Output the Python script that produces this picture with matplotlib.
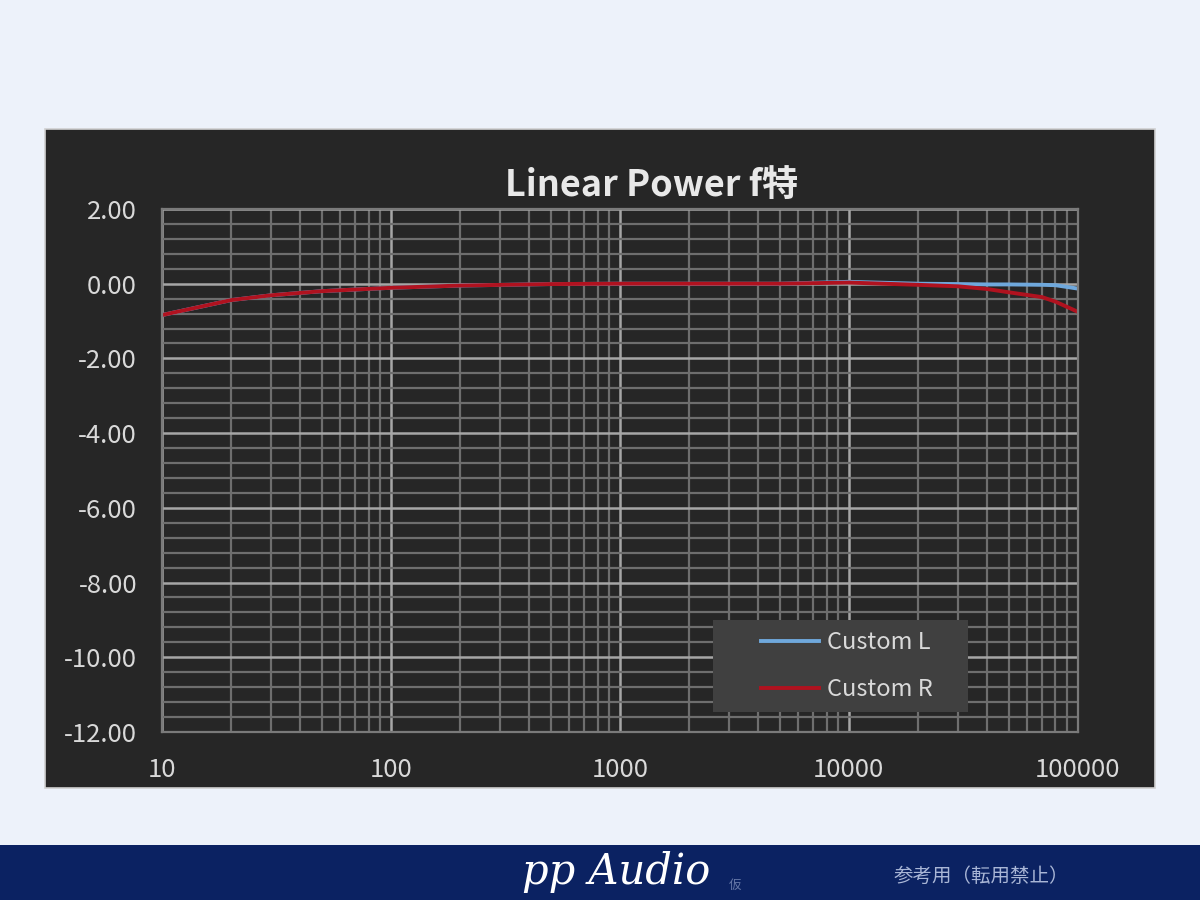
import matplotlib.pyplot as plt
from matplotlib.patches import Rectangle
from matplotlib.ticker import FixedLocator, MultipleLocator, NullFormatter

plt.rcParams["font.family"] = ["Noto Sans CJK JP", "DejaVu Sans"]

# data
freq = [10, 20, 30, 50, 100, 200, 500, 1000, 2000, 5000, 10000,
        20000, 30000, 40000, 50000, 70000, 80000, 100000]
custom_l = [-0.84, -0.44, -0.31, -0.20, -0.11, -0.05, -0.01, 0.0, 0.0, 0.0, 0.05,
            0.0, -0.01, -0.02, -0.02, -0.03, -0.04, -0.13]
custom_r = [-0.84, -0.44, -0.31, -0.20, -0.11, -0.05, -0.01, 0.0, 0.0, 0.0, 0.03,
            -0.03, -0.07, -0.14, -0.23, -0.36, -0.48, -0.75]
x_ticks = [10, 100, 1000, 10000, 100000]
y_ticks = [2, 0, -2, -4, -6, -8, -10, -12]

fig = plt.figure(figsize=(12, 9), dpi=100)
fig.patch.set_facecolor("#edf2fa")

# dark chart panel and bottom banner
fig.patches.append(Rectangle((0.0375, 0.1244), 0.925, 0.7322, transform=fig.transFigure,
                             facecolor="#262626", edgecolor="#d0d0d0", linewidth=1.2, zorder=-5))
fig.patches.append(Rectangle((0, 0), 1, 0.0611, transform=fig.transFigure,
                             facecolor="#0b2262", edgecolor="none", zorder=-5))

ax = fig.add_axes([0.135, 0.1867, 0.763, 0.5811])
ax.set_zorder(2)
ax.set_facecolor("#262626")
ax.plot(freq, custom_l, color="#6fa8dc", linewidth=2.8, label="Custom L")
ax.plot(freq, custom_r, color="#b0121f", linewidth=2.8, label="Custom R")

ax.set_xscale("log")
ax.set_xlim(10, 100000)
ax.set_ylim(-12, 2)
ax.xaxis.set_major_locator(FixedLocator(x_ticks))
ax.set_xticklabels([str(v) for v in x_ticks])
ax.xaxis.set_minor_formatter(NullFormatter())
ax.yaxis.set_major_locator(FixedLocator(y_ticks))
ax.set_yticklabels([f"{v:.2f}" for v in y_ticks])
ax.yaxis.set_minor_locator(MultipleLocator(0.4))

ax.grid(which="major", color="#a6a6a6", linewidth=1.8)
ax.grid(which="minor", color="#6e6e6e", linewidth=1.6)
ax.set_axisbelow(True)
for s in ax.spines.values():
    s.set_color("#7a7a7a")
    s.set_linewidth(1.6)
ax.tick_params(which="both", length=0, colors="#d9d9d9", labelsize=18.5)
ax.tick_params(axis="x", pad=18)
ax.tick_params(axis="y", pad=18)

fig.text(0.543, 0.794, "Linear Power f特", color="#e8e8e8", fontsize=26,
         fontweight="bold", ha="center", va="center")

# legend box
ax.add_patch(Rectangle((0.6015, 0.0382), 0.2785, 0.1759, transform=ax.transAxes,
                       facecolor="#404040", edgecolor="none", zorder=4))
leg = ax.legend(loc="center left", bbox_to_anchor=(0.641, 0.126), fontsize=17,
                frameon=False, labelcolor="#d9d9d9", borderpad=0,
                handlelength=2.45, handletextpad=0.35, labelspacing=1.0)
leg.set_zorder(5)

# banner text
fig.text(0.435, 0.008, "pp Audio", family="DejaVu Serif", style="italic", fontsize=30,
         color="white", ha="left", va="bottom")
fig.text(0.607, 0.009, "仮", fontsize=9, color="#6678a8", ha="left", va="bottom")
fig.text(0.745, 0.026, "参考用（転用禁止）", fontsize=14, color="#a9b6d6", ha="left", va="center")

fig.savefig("out.png", dpi=100, facecolor=fig.get_facecolor())
